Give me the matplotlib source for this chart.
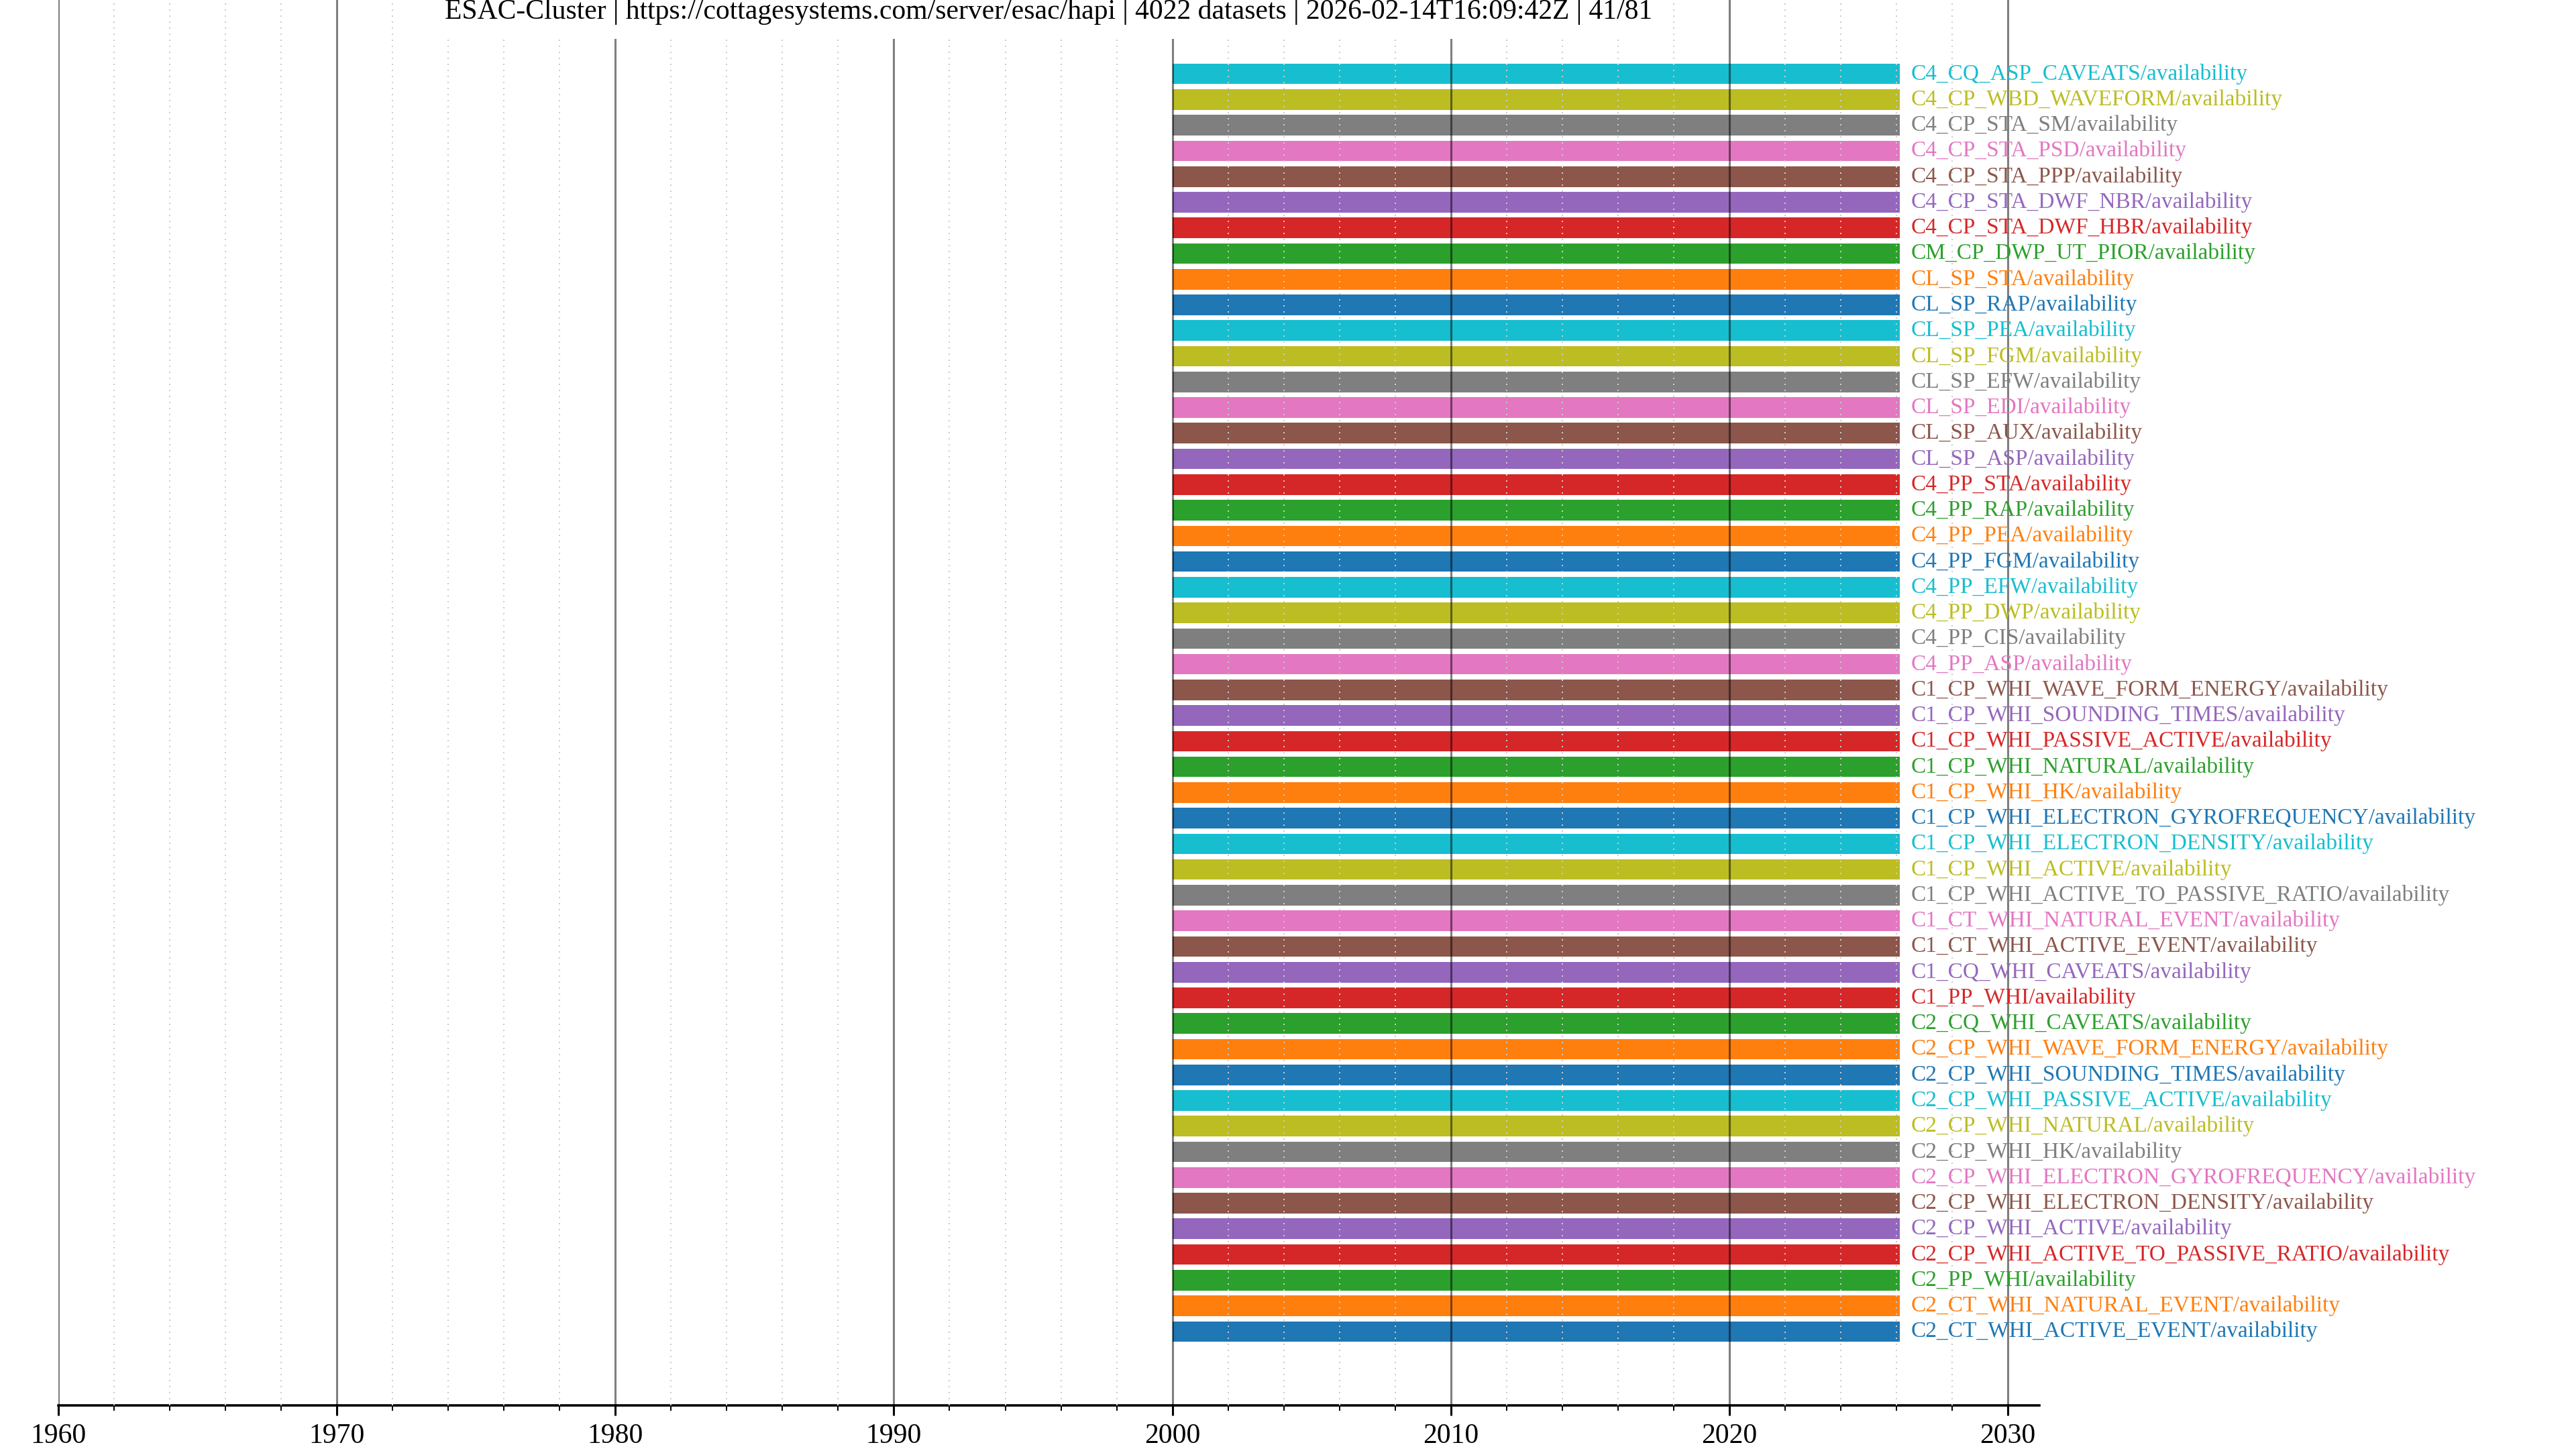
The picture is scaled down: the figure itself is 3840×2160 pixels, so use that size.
import matplotlib
matplotlib.use("Agg")
import matplotlib.pyplot as plt
from matplotlib.ticker import MultipleLocator
from datetime import date

plt.rcParams['font.family'] = ['Liberation Serif', 'DejaVu Serif']

title = ("ESAC-Cluster | https://cottagesystems.com/server/esac/hapi | "
         "4022 datasets | 2026-02-14T16:09:42Z | 41/81")

# dataset ids, bottom to top
datasets = [
    "C2_CT_WHI_ACTIVE_EVENT", "C2_CT_WHI_NATURAL_EVENT", "C2_PP_WHI",
    "C2_CP_WHI_ACTIVE_TO_PASSIVE_RATIO", "C2_CP_WHI_ACTIVE",
    "C2_CP_WHI_ELECTRON_DENSITY", "C2_CP_WHI_ELECTRON_GYROFREQUENCY",
    "C2_CP_WHI_HK", "C2_CP_WHI_NATURAL", "C2_CP_WHI_PASSIVE_ACTIVE",
    "C2_CP_WHI_SOUNDING_TIMES", "C2_CP_WHI_WAVE_FORM_ENERGY",
    "C2_CQ_WHI_CAVEATS", "C1_PP_WHI", "C1_CQ_WHI_CAVEATS",
    "C1_CT_WHI_ACTIVE_EVENT", "C1_CT_WHI_NATURAL_EVENT",
    "C1_CP_WHI_ACTIVE_TO_PASSIVE_RATIO", "C1_CP_WHI_ACTIVE",
    "C1_CP_WHI_ELECTRON_DENSITY", "C1_CP_WHI_ELECTRON_GYROFREQUENCY",
    "C1_CP_WHI_HK", "C1_CP_WHI_NATURAL", "C1_CP_WHI_PASSIVE_ACTIVE",
    "C1_CP_WHI_SOUNDING_TIMES", "C1_CP_WHI_WAVE_FORM_ENERGY",
    "C4_PP_ASP", "C4_PP_CIS", "C4_PP_DWP", "C4_PP_EFW", "C4_PP_FGM",
    "C4_PP_PEA", "C4_PP_RAP", "C4_PP_STA",
    "CL_SP_ASP", "CL_SP_AUX", "CL_SP_EDI", "CL_SP_EFW", "CL_SP_FGM",
    "CL_SP_PEA", "CL_SP_RAP", "CL_SP_STA",
    "CM_CP_DWP_UT_PIOR", "C4_CP_STA_DWF_HBR", "C4_CP_STA_DWF_NBR",
    "C4_CP_STA_PPP", "C4_CP_STA_PSD", "C4_CP_STA_SM",
    "C4_CP_WBD_WAVEFORM", "C4_CQ_ASP_CAVEATS",
]
parameter = "availability"

# availability interval of each dataset (all read as the same span)
start_dates = ["2000-01-01"] * len(datasets)
stop_dates = ["2026-02-14"] * len(datasets)

xlim = (1960, 2031.13)
colors = plt.rcParams['axes.prop_cycle'].by_key()['color']


def to_year(s):
    d = date.fromisoformat(s)
    y0 = date(d.year, 1, 1)
    y1 = date(d.year + 1, 1, 1)
    return d.year + (d - y0).days / (y1 - y0).days


starts = [to_year(s) for s in start_dates]
stops = [to_year(s) for s in stop_dates]

fig = plt.figure(figsize=(19.2, 10.8), dpi=200)
ax = fig.add_axes([87 / 3840, 1 - 2095 / 2160, (3040 - 87) / 3840, 2095 / 2160])

for i, (name, a, b) in enumerate(zip(datasets, starts, stops)):
    c = colors[i % len(colors)]
    ax.barh(i, b - a, left=a, height=0.8, color=c, zorder=1)
    ax.annotate(f"{name}/{parameter}", xy=(b, i), xytext=(6, 0),
                textcoords="offset points", ha="left", va="center",
                color=c, fontsize=12)

n = len(datasets)
ax.set_xlim(*xlim)
ax.set_ylim(-2.88, n - 1 + 2.88)
ax.set_yticks([])
for s in ("top", "right", "left"):
    ax.spines[s].set_visible(False)
ax.spines["bottom"].set_linewidth(1.3)

ax.xaxis.set_major_locator(MultipleLocator(10))
ax.xaxis.set_minor_locator(MultipleLocator(2))
ax.tick_params(axis="x", which="major", length=5.4, width=1.1,
               labelsize=15, pad=4)
ax.tick_params(axis="x", which="minor", length=2.9, width=0.72)
ax.set_axisbelow(False)
ax.grid(True, which="major", axis="x", color="black", alpha=0.5, lw=1.1)
ax.grid(True, which="minor", axis="x", color="#cccccc", lw=0.72,
        linestyle=(0, (1, 3.5)))

cx = (87 + 3040) / 2 / 3840
fig.text(cx, 1 - 28 / 2160, title, ha="center", va="baseline", fontsize=15,
         bbox=dict(boxstyle="square,pad=0.5", facecolor="white",
                   edgecolor="none"), zorder=5)

fig.savefig("out.png", dpi=200)
